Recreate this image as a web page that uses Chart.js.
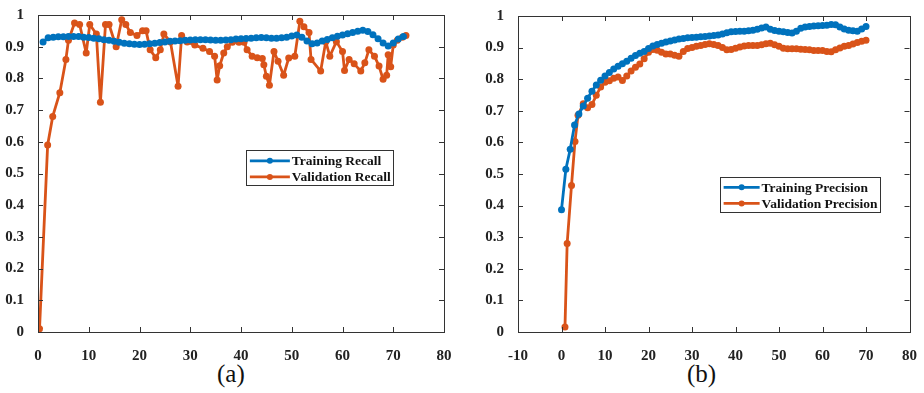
<!DOCTYPE html>
<html><head><meta charset="utf-8">
<script src="https://cdn.jsdelivr.net/npm/chart.js@4/dist/chart.umd.min.js"></script>
<style>
html,body{margin:0;padding:0;background:#fff;}
#wrap{position:relative;width:924px;height:393px;overflow:hidden;background:#fff;}
.cv{position:absolute;top:0;}
.cap{position:absolute;font-family:"Liberation Serif","Times New Roman",serif;font-size:25px;color:#111;top:360px;}
</style></head>
<body><div id="wrap">
<div class="cv" style="left:0;width:462px;height:360px"><canvas id="c1"></canvas></div>
<div class="cv" style="left:462px;width:462px;height:360px"><canvas id="c2"></canvas></div>
<div class="cap" style="left:217px">(a)</div>
<div class="cap" style="left:687px">(b)</div>
</div>
<script>
// ---- (a) Recall ----
const trainRecallEpoch = [1,2,3,4,5,6,7,8,9,10,11,12,13,14,15,16,17,18,19,20,21,22,23,24,25,26,27,28,29,30,31,32,33,34,35,36,37,38,39,40,41,42,43,44,45,46,47,48,49,50,51,52,53,54,55,56,57,58,59,60,61,62,63,64,65,66,67,68,69,70,71,72];
const trainRecall = [0.915,0.928,0.930,0.931,0.931,0.932,0.932,0.932,0.930,0.929,0.927,0.925,0.922,0.920,0.917,0.914,0.911,0.909,0.908,0.907,0.908,0.909,0.911,0.913,0.915,0.917,0.918,0.919,0.920,0.921,0.922,0.922,0.922,0.921,0.920,0.920,0.921,0.922,0.924,0.925,0.926,0.927,0.928,0.929,0.928,0.927,0.927,0.928,0.930,0.934,0.937,0.930,0.918,0.909,0.912,0.918,0.923,0.928,0.933,0.937,0.941,0.945,0.949,0.952,0.948,0.938,0.925,0.912,0.902,0.912,0.924,0.932];
const valRecallEpoch = [0.3,1.9,2.9,4.3,5.5,6.0,7.2,8.2,9.5,10.2,11.5,12.3,13.3,14.0,15.4,16.5,17.3,18.2,19.5,20.6,21.3,22.1,23.2,24.1,24.8,26.1,27.6,28.3,29.4,30.9,32.5,33.8,34.8,35.3,35.8,36.6,37.3,38.3,39.6,40.6,41.2,42.2,43.2,44.2,44.5,45.0,45.6,46.5,47.3,48.4,49.4,50.6,51.6,52.4,53.4,53.8,55.7,56.7,57.5,58.8,60.0,60.4,61.3,62.3,63.6,64.4,65.2,66.3,67.2,68.0,68.7,69.0,69.5,70.0,70.8,71.8,72.5];
const valRecall = [0.01,0.59,0.68,0.755,0.86,0.92,0.975,0.97,0.88,0.97,0.94,0.725,0.97,0.97,0.90,0.985,0.97,0.945,0.935,0.95,0.95,0.89,0.865,0.89,0.94,0.915,0.775,0.935,0.915,0.905,0.895,0.885,0.87,0.795,0.84,0.88,0.90,0.914,0.914,0.914,0.89,0.87,0.865,0.863,0.843,0.807,0.778,0.885,0.854,0.81,0.864,0.87,0.98,0.963,0.945,0.86,0.823,0.916,0.87,0.916,0.885,0.825,0.86,0.846,0.823,0.849,0.89,0.87,0.839,0.797,0.81,0.875,0.837,0.905,0.92,0.93,0.935];
const xTicksA = [0,80,10];
// ---- (b) Precision ----
const trainPrecEpoch = [0,1,2,3,4,5,6,7,8,9,10,11,12,13,14,15,16,17,18,19,20,21,22,23,24,25,26,27,28,29,30,31,32,33,34,35,36,37,38,39,40,41,42,43,44,45,46,47,48,49,50,51,52,53,54,55,56,57,58,59,60,61,62,63,64,65,66,67,68,69,70];
const trainPrec = [0.387,0.515,0.578,0.655,0.690,0.715,0.740,0.762,0.782,0.797,0.810,0.821,0.832,0.841,0.849,0.857,0.866,0.875,0.882,0.888,0.897,0.905,0.910,0.914,0.918,0.921,0.924,0.927,0.929,0.931,0.932,0.933,0.934,0.935,0.937,0.938,0.940,0.943,0.947,0.950,0.951,0.952,0.952,0.953,0.955,0.958,0.962,0.965,0.958,0.954,0.952,0.950,0.948,0.946,0.952,0.961,0.965,0.967,0.968,0.969,0.970,0.971,0.973,0.972,0.965,0.959,0.955,0.953,0.952,0.959,0.967];
const valPrecEpoch = [0.8,1.3,2.3,3.1,3.8,5,6,7,8,9,10,11,12,13,14,15,16,17,18,19,20,21,22,23,24,25,26,27,28,29,30,31,32,33,34,35,36,37,38,39,40,41,42,43,44,45,46,47,48,49,50,51,52,53,54,55,56,57,58,59,60,61,62,63,64,65,66,67,68,69,70];
const valPrec = [0.016,0.28,0.464,0.603,0.686,0.722,0.710,0.720,0.749,0.775,0.790,0.795,0.803,0.807,0.796,0.810,0.826,0.838,0.848,0.865,0.885,0.894,0.892,0.885,0.880,0.880,0.876,0.873,0.888,0.897,0.900,0.904,0.907,0.910,0.912,0.910,0.907,0.900,0.893,0.894,0.898,0.902,0.905,0.907,0.907,0.907,0.909,0.912,0.914,0.909,0.904,0.898,0.896,0.896,0.896,0.895,0.894,0.893,0.891,0.891,0.891,0.888,0.887,0.893,0.899,0.904,0.907,0.911,0.916,0.920,0.923];
const xTicksB = [-10,80,10];
const yTicks = [0,1,0.1];
const BLUE = '#0072BD', ORANGE = '#D95319';
const TICK_FONT = {family:'"Liberation Serif","Times New Roman",serif', size:15, weight:'bold'};

function pts(xs, ys){ return xs.map((x,i)=>({x:x, y:ys[i]})); }

const framePlugin = {
  id:'frame',
  afterDatasetsDraw(chart, args, opts){
    const {ctx, chartArea:a, scales:{x,y}} = chart;
    ctx.save();
    ctx.strokeStyle = '#333'; ctx.lineWidth = 1;
    ctx.strokeRect(Math.round(a.left)+0.5, Math.round(a.top)+0.5, Math.round(a.right-a.left), Math.round(a.bottom-a.top));
    const L = 5;
    ctx.beginPath();
    x.ticks.forEach(t=>{ const p = Math.round(x.getPixelForValue(t.value))+0.5;
      ctx.moveTo(p,a.bottom); ctx.lineTo(p,a.bottom-L); ctx.moveTo(p,a.top); ctx.lineTo(p,a.top+L); });
    y.ticks.forEach(t=>{ const p = Math.round(y.getPixelForValue(t.value))+0.5;
      ctx.moveTo(a.left,p); ctx.lineTo(a.left+L,p); ctx.moveTo(a.right,p); ctx.lineTo(a.right-L,p); });
    ctx.stroke();
    // legend
    const lg = opts.legend;
    const bx = a.left + lg.fx*(a.right-a.left), by = a.top + lg.fy*(a.bottom-a.top);
    ctx.fillStyle='#fff'; ctx.fillRect(bx,by,lg.w,lg.h);
    ctx.strokeStyle='#333'; ctx.lineWidth=1; ctx.strokeRect(Math.round(bx)+0.5,Math.round(by)+0.5,lg.w,lg.h);
    ctx.font = 'bold 13.5px "Liberation Serif","Times New Roman",serif';
    ctx.textBaseline='middle'; ctx.textAlign='left';
    chart.data.datasets.forEach((ds,i)=>{
      const yy = by + lg.h*(i===0?0.3:0.76);
      ctx.strokeStyle = ds.borderColor; ctx.lineWidth = 2.8;
      ctx.beginPath(); ctx.moveTo(bx+4,yy); ctx.lineTo(bx+4+lg.line,yy); ctx.stroke();
      ctx.fillStyle = ds.borderColor; ctx.beginPath(); ctx.arc(bx+4+lg.line/2,yy,3,0,Math.PI*2); ctx.fill();
      ctx.fillStyle='#111'; ctx.fillText(ds.label, bx+6+lg.line, yy+1);
    });
    ctx.restore();
  }
};

function makeChart(id, dsets, xr, pad, legend){
  return new Chart(document.getElementById(id), {
    type:'line',
    data:{datasets:dsets.map(d=>({label:d.label, data:d.data, borderColor:d.color, backgroundColor:d.color,
      pointBackgroundColor:d.color, pointBorderColor:d.color, pointRadius:3.5, pointBorderWidth:0, borderWidth:2.8,
      borderJoinStyle:'round', borderCapStyle:'round', tension:0, fill:false}))},
    options:{
      responsive:true, maintainAspectRatio:false, animation:false,
      layout:{padding:pad},
      plugins:{legend:{display:false}, tooltip:{enabled:false}, frame:{legend:legend}},
      scales:{
        x:{type:'linear', min:xr[0], max:xr[1], grid:{display:false}, border:{display:false},
           ticks:{stepSize:xr[2], font:TICK_FONT, color:'#222', padding:7, maxRotation:0},
           afterFit(s){ s.height = 28; }},
        y:{type:'linear', min:yTicks[0], max:yTicks[1], grid:{display:false}, border:{display:false},
           ticks:{stepSize:yTicks[2], font:TICK_FONT, color:'#222', padding:6, callback:v=>String(+v.toFixed(1))},
           afterFit(s){ s.width = 38; }}
      }
    },
    plugins:[framePlugin]
  });
}

makeChart('c1', [
  {label:'Training Recall', data:pts(trainRecallEpoch, trainRecall), color:BLUE},
  {label:'Validation Recall', data:pts(valRecallEpoch, valRecall), color:ORANGE}
], xTicksA, {left:0, right:18, top:10, bottom:0}, {fx:0.512, fy:0.427, w:147, h:35, line:40});

makeChart('c2', [
  {label:'Training Precision', data:pts(trainPrecEpoch, trainPrec), color:BLUE},
  {label:'Validation Precision', data:pts(valPrecEpoch, valPrec), color:ORANGE}
], xTicksB, {left:18, right:13, top:16, bottom:0}, {fx:0.515, fy:0.509, w:160, h:35, line:36});
</script>
</body></html>
